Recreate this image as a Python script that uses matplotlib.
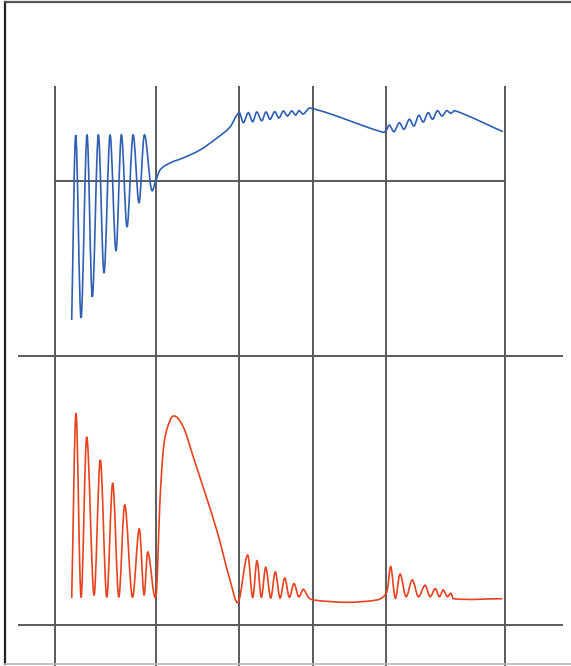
import matplotlib.pyplot as plt
from matplotlib.path import Path
from matplotlib.patches import PathPatch

# values (x = time position, y = signal level, image units)
blue_x = [71.7, 75.7, 81, 87, 92.3, 98.3, 104, 110, 116, 121.3, 127, 133, 139, 144.3, 151.3,
          156, 160, 170, 183, 200, 217, 230, 239.3,
          243.3, 248.3, 252.7, 256.7, 261.7, 266, 270, 274.7, 279, 283.3, 287.3, 291.7, 295.7, 299, 303.3,
          310, 383, 386.5,
          389.3, 394, 399.3, 404, 409.3, 414, 418.7, 423.3, 428, 432.7, 437.3, 442, 446.7, 450.7, 455, 503]
blue_y = [320, 135, 318, 135, 297, 135, 273, 135, 251, 135, 227, 135, 203, 135, 189,
          180, 170, 163, 158, 150, 138, 127, 112.7,
          122.7, 112.7, 121.7, 112, 120.7, 112, 119.3, 111.7, 118, 111, 116, 111, 115, 110.7, 114,
          108, 132.3, 130,
          125, 131.7, 122.7, 129.3, 119.3, 126, 115.3, 122, 112.7, 119.3, 110.7, 116, 110.7, 113.3, 110.7, 131.7]

red_x = [71.7, 76, 81, 86.7, 94, 100.3, 106.7, 112.7, 118.7, 124.7, 132.3, 139.3, 144, 147.7, 156,
         160, 163.3, 166.7, 173.3, 183.3, 193.3, 216.7, 230, 238.3,
         247.7, 252.7, 257, 261.3, 265.7, 270.7, 275.3, 280, 284.7, 289.3, 294, 298.7, 303.3, 308.3,
         313.3, 348.3, 376.7, 383.3, 387.3,
         390.7, 395.3, 400, 406, 412.3, 418.3, 425, 430, 435.3, 439.3, 443.3, 447.3, 451, 453.3, 502.3]
red_y = [598, 413, 597, 437, 595, 460, 597, 483, 597, 505, 597, 529, 595, 552, 596,
         500, 450, 430, 416, 427, 457, 530, 580, 602,
         555, 597.3, 560.7, 597.3, 567.3, 598, 572, 598, 578, 597.3, 583.7, 596.7, 589.3, 597.3,
         600, 602.3, 600, 596.7, 590,
         566.7, 598.3, 574, 596.7, 580, 596.7, 585.3, 596.7, 588.7, 596.7, 590, 596.7, 593.3, 598.7, 598.7]

grid_x = [55, 156, 238.5, 313, 386, 505]


def smooth_path(xs, ys):
    # draw the read points as a smooth curve (cubic Hermite segments)
    n = len(xs)
    slopes = []
    for i in range(n):
        a, b = max(i - 1, 0), min(i + 1, n - 1)
        slopes.append((ys[b] - ys[a]) / (xs[b] - xs[a]))
    verts = [(xs[0], ys[0])]
    codes = [Path.MOVETO]
    for i in range(n - 1):
        d = (xs[i + 1] - xs[i]) / 3
        verts += [(xs[i] + d, ys[i] + d * slopes[i]),
                  (xs[i + 1] - d, ys[i + 1] - d * slopes[i + 1]),
                  (xs[i + 1], ys[i + 1])]
        codes += [Path.CURVE4] * 3
    return Path(verts, codes)


fig = plt.figure(figsize=(5.71, 6.66), dpi=100)
ax = fig.add_axes([0, 0, 1, 1])
ax.set_xlim(0, 571)
ax.set_ylim(666, 0)
ax.axis('off')

grid_kw = dict(color='#5a5a5a', lw=1.4, zorder=1)
for gx in grid_x:
    ax.plot([gx, gx], [87, 666], **grid_kw)
ax.plot([55, 505], [181, 181], **grid_kw)
ax.plot([19, 562], [356, 356], **grid_kw)
ax.plot([19, 562], [625, 625], **grid_kw)

# frame
ax.plot([5, 5], [2, 664], color='#222222', lw=1.6)
ax.plot([5, 571], [2, 2], color='#555555', lw=1.6)
ax.plot([5, 571], [664, 664], color='#bbbbbb', lw=1.2)

ax.add_patch(PathPatch(smooth_path(blue_x, blue_y), fill=False, edgecolor='#2f5fb5', lw=1.2, zorder=3))
ax.add_patch(PathPatch(smooth_path(red_x, red_y), fill=False, edgecolor='#e8421f', lw=1.2, zorder=3))

plt.savefig('out.png', dpi=100)
